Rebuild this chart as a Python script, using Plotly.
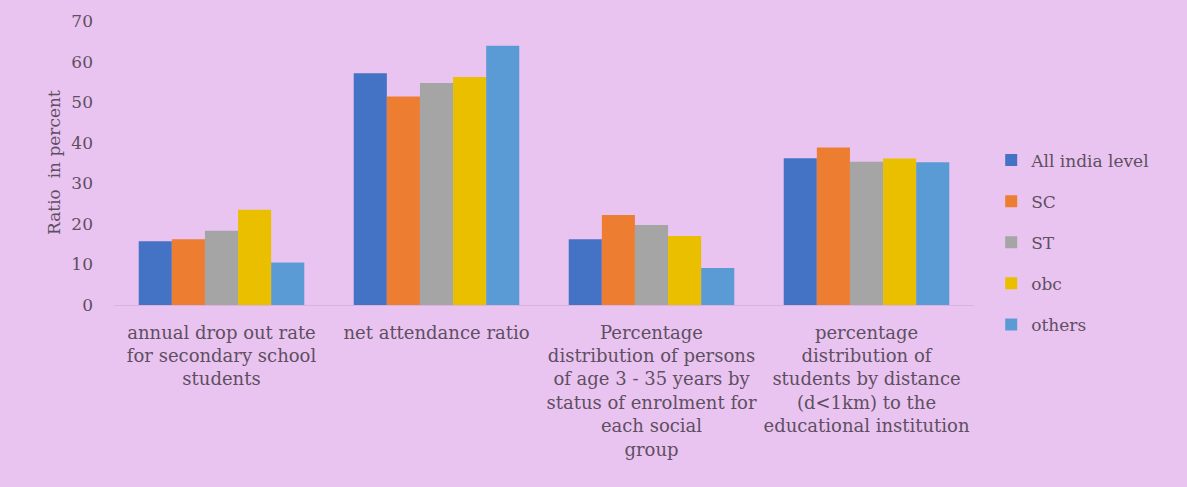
import plotly.graph_objects as go

categories = [
    "annual drop out rate<br>for secondary school<br>students",
    "net attendance ratio",
    "Percentage<br>distribution of persons<br>of age 3 - 35 years by<br>status of enrolment for<br>each social<br>group",
    "percentage<br>distribution of<br>students by distance<br>(d<1km) to the<br>educational institution",
]
series_names = ["All india level", "SC", "ST", "obc", "others"]
all_india = [15.7, 57.1, 16.2, 36.2]
sc = [16.2, 51.4, 22.2, 38.8]
st = [18.3, 54.7, 19.7, 35.3]
obc = [23.5, 56.2, 17.0, 36.1]
others = [10.5, 63.9, 9.1, 35.2]
series_values = [all_india, sc, st, obc, others]
colors = ["#4472C4", "#ED7D31", "#A5A5A5", "#E9BF00", "#5B9BD5"]
y_ticks = [0, 10, 20, 30, 40, 50, 60, 70]

bg = "#EAC4F0"
txt = "#5E4F62"
font_family = "DejaVu Serif"

fig = go.Figure()
for i, (name, vals) in enumerate(zip(series_names, series_values)):
    fig.add_trace(go.Bar(
        x=categories, y=vals, name=name,
        marker=dict(color=colors[i], line=dict(width=0)),
        legendgroup=name,
    ))

fig.update_layout(
    width=1187, height=487,
    paper_bgcolor=bg, plot_bgcolor=bg,
    margin=dict(l=114, r=213, t=21, b=182),
    barmode="group", bargap=0.23, bargroupgap=0,
    font=dict(family=font_family, color=txt, size=17),
    showlegend=True,
    legend=dict(
        x=1.02, xanchor="left", xref="paper",
        y=0.22, yanchor="middle",
        font=dict(size=17, color=txt, family=font_family),
        tracegroupgap=16, itemwidth=30,
        bgcolor="rgba(0,0,0,0)",
    ),
    xaxis=dict(
        showgrid=False, showline=True, linecolor="#D9B3DE", linewidth=1,
        ticks="", tickfont=dict(size=18, color=txt, family=font_family),
        ticklabelstandoff=11,
    ),
    yaxis=dict(
        range=[0, 70], tickvals=y_ticks, showgrid=False, zeroline=False,
        showline=False, ticks="", tickfont=dict(size=17, color=txt, family=font_family),
        ticklabelstandoff=20,
    ),
    annotations=[dict(
        text="Ratio  in percent", textangle=-90, showarrow=False,
        xref="paper", yref="paper", x=0, y=0.5, xshift=-72, yshift=0,
        font=dict(size=17, color=txt, family=font_family),
    )],
)

fig.write_html("out.html")
